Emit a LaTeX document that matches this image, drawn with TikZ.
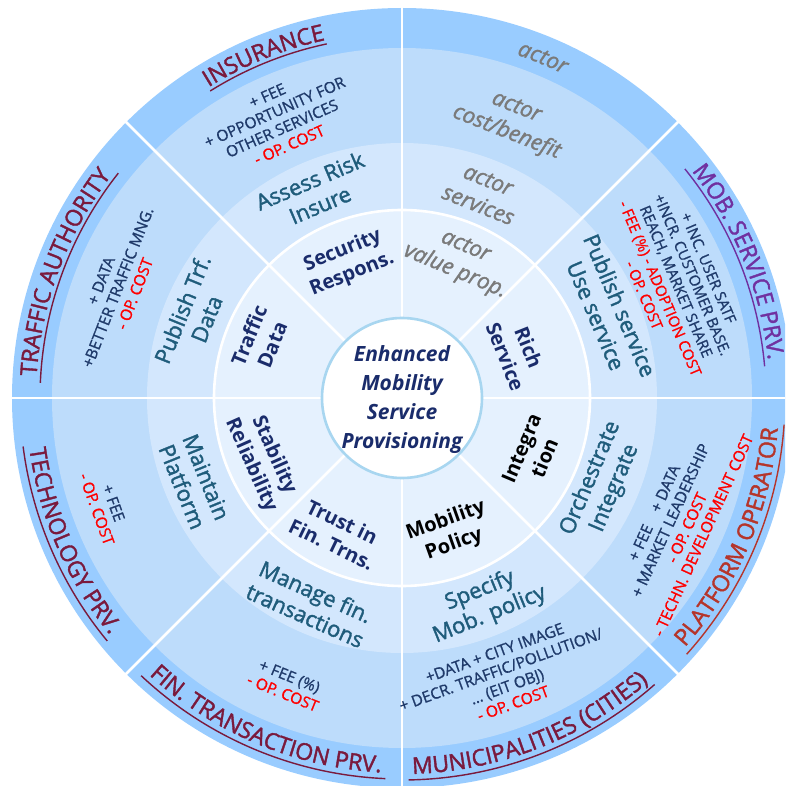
\documentclass[tikz,border=0pt]{standalone}
\usepackage{fontspec}
\setmainfont{Open Sans}
\newfontfamily\mfont{Open Sans}[FakeBold=1.6]
\newfontfamily\sfontc{Open Sans}[FakeBold=1.0]
\usetikzlibrary{decorations.text}
\definecolor{ringA}{HTML}{99CCFF}
\definecolor{ringB}{HTML}{BDDCFB}
\definecolor{ringC}{HTML}{D3E7FD}
\definecolor{ringD}{HTML}{E5F1FE}
\definecolor{cborder}{HTML}{A8D6F0}
\definecolor{navy}{HTML}{1A2C6B}
\definecolor{costnavy}{HTML}{1F3A6A}
\definecolor{tealc}{HTML}{1F5C7B}
\definecolor{maroon}{HTML}{7A1A3D}
\definecolor{purp}{HTML}{7030A0}
\definecolor{brick}{HTML}{B5352B}
\definecolor{actorgray}{HTML}{7A7A7A}
\tikzset{
  sep/.style={white, line width=2.6pt},
  cost/.style={font=\sfontc\fontsize{15.5pt}{18pt}\selectfont, align=center, text=costnavy, inner sep=0pt},
  svc/.style={font=\mfont\fontsize{22pt}{26pt}\selectfont, align=center, text=tealc, inner sep=0pt},
  val/.style={font=\bfseries\fontsize{20pt}{25pt}\selectfont, align=center, text=navy, inner sep=0pt},
  act/.style={font=\mfont\itshape\fontsize{22pt}{27pt}\selectfont, align=center, text=actorgray, inner sep=0pt},
  uline/.style={line width=1.4pt},
}
\begin{document}
\begin{tikzpicture}
\useasboundingbox (-402pt,-388pt) rectangle (383pt,398pt);
\clip (-402pt,-388pt) rectangle (383pt,398pt);
% rings
\fill[ringA] (0,0) circle[radius=390pt];
\fill[ringB] (0,0) circle[radius=350pt];
\fill[ringC] (0,0) circle[radius=255pt];
\fill[ringD] (0,0) circle[radius=188pt];
\draw[sep] (0,0) circle[radius=188pt];
\foreach \a in {0,45,...,315} \draw[sep] (\a:80pt) -- (\a:395pt);
\fill[white] (0,0) circle[radius=80pt];
\draw[cborder, line width=2.6pt] (0,0) circle[radius=80pt];

% outer labels (top half: clockwise, bottom half: counter-clockwise)
\path[decorate, decoration={text along path, text align=center, text color=maroon,
  text={|\mfont\fontsize{23pt}{23pt}\selectfont|INSURANCE}}]
  (152:366pt) arc[start angle=152, end angle=72, radius=366pt];
\draw[maroon, uline] (122:362pt) arc[start angle=122, end angle=102, radius=362pt];

\path[decorate, decoration={text along path, text align=center, text color=actorgray,
  text={|\mfont\itshape\fontsize{22pt}{22pt}\selectfont|actor}}]
  (107.5:362pt) arc[start angle=107.5, end angle=27.5, radius=362pt];

\path[decorate, decoration={text along path, text align=center, text color=purp,
  text={|\mfont\fontsize{23pt}{23pt}\selectfont|MOB. SERVICE PRV.}}]
  (62:368pt) arc[start angle=62, end angle=-18, radius=368pt];
\draw[purp, uline] (39:364pt) arc[start angle=39, end angle=5, radius=364pt];

\path[decorate, decoration={text along path, text align=center, text color=brick,
  text={|\mfont\fontsize{23pt}{23pt}\selectfont|PLATFORM OPERATOR}}]
  (-63:377pt) arc[start angle=-63, end angle=17, radius=377pt];
\draw[brick, uline] (-42:383pt) arc[start angle=-42, end angle=-4, radius=383pt];

\path[decorate, decoration={text along path, text align=center, text color=maroon,
  text={|\mfont\fontsize{23pt}{23pt}\selectfont|MUNICIPALITIES (CITIES)}}]
  (-108.7:376pt) arc[start angle=-108.7, end angle=-28.7, radius=376pt];
\draw[maroon, uline] (-89:382pt) arc[start angle=-89, end angle=-48.6, radius=382pt];

\path[decorate, decoration={text along path, text align=center, text color=maroon,
  text={|\mfont\fontsize{23pt}{23pt}\selectfont|FIN. TRANSACTION PRV.}}]
  (-152.8:375pt) arc[start angle=-152.8, end angle=-72.8, radius=375pt];
\draw[maroon, uline] (-133.2:381pt) arc[start angle=-133.2, end angle=-92.5, radius=381pt];

\path[decorate, decoration={text along path, text align=center, text color=maroon,
  text={|\mfont\fontsize{23pt}{23pt}\selectfont|TECHNOLOGY PRV.}}]
  (163.4:376pt) arc[start angle=163.4, end angle=243.4, radius=376pt];
\draw[maroon, uline] (187.3:382pt) arc[start angle=187.3, end angle=219.5, radius=382pt];

\path[decorate, decoration={text along path, text align=center, text color=maroon,
  text={|\mfont\fontsize{23pt}{23pt}\selectfont|TRAFFIC AUTHORITY}}]
  (199.6:366pt) arc[start angle=199.6, end angle=119.6, radius=366pt];
\draw[maroon, uline] (141.6:362pt) arc[start angle=141.6, end angle=177.6, radius=362pt];

% cost / benefit ring
\node[cost, rotate=24] (cIns) at (114:304pt) {+ FEE\\+ OPPORTUNITY FOR\\OTHER SERVICES\\\textcolor{red}{- OP. COST}};
\node[act, rotate=-21.5] (aCost) at (68.5:298pt) {actor\\cost/benefit};
\node[cost, rotate=-67, font=\sfontc\fontsize{15pt}{17.5pt}\selectfont] (cMob) at (23:298pt) {+ INC. USER SATF\\+INCR. CUSTOMER BASE.\\REACH, MARKET SHARE\\\textcolor{red}{- FEE (\%) - ADOPTION COST}\\\textcolor{red}{- OP. COST}};
\node[cost, rotate=65.5] (cPlat) at (-24.5:304pt) {+ FEE\quad + DATA\\+ MARKET LEADERSHIP\\\textcolor{red}{- OP. COST}\\\textcolor{red}{- TECHN. DEVELOPMENT COST}};
\node[cost, rotate=20] (cMun) at (-70:298pt) {+DATA + CITY IMAGE\\+ DECR. TRAFFIC/POLLUTION/\\\ldots{} (EIT OBJ)\\\textcolor{red}{- OP. COST}};
\node[cost, rotate=-22] (cFin) at (-112:309pt) {+ FEE (\%)\\\textcolor{red}{- OP. COST}};
\node[cost, rotate=-70] (cTech) at (200:316pt) {+ FEE\\\textcolor{red}{- OP. COST}};
\node[cost, rotate=68.7] (cTraf) at (158.7:305pt) {+ DATA\\+BETTER TRAFFIC MNG.\\\textcolor{red}{- OP. COST}};

% services ring
\node[svc, rotate=23] (sIns) at (113:223pt) {Assess Risk\\Insure};
\node[act, rotate=-21.6] (aSvc) at (68.4:221pt) {actor\\services};
\node[svc, rotate=-67] (sMob) at (23:224pt) {Publish service\\Use service};
\node[svc, rotate=67] (sPlat) at (-23:218pt) {Orchestrate\\Integrate};
\node[svc, rotate=22] (sMun) at (-68:221pt) {Specify\\Mob. policy};
\node[svc, rotate=-24] (sFin) at (-114:225pt) {Manage fin.\\transactions};
\node[svc, rotate=-68] (sTech) at (202:224pt) {Maintain\\Platform};
\node[svc, rotate=68] (sTraf) at (158:224pt) {Publish Trf.\\Data};

% value proposition ring
\node[val, rotate=22] (vIns) at (112:146pt) {Security\\Respons.};
\node[act, rotate=-22.8] (aVal) at (67.2:150pt) {actor\\value prop.};
\node[val, rotate=-68.3] (vMob) at (21.7:124pt) {Rich\\Service};
\node[val, rotate=67.2, text=black] (vPlat) at (-22.8:142pt) {Integra\\tion};
\node[val, rotate=19.6, text=black] (vMun) at (-70.4:143pt) {Mobility\\Policy};
\node[val, rotate=-25.7] (vFin) at (-115.7:150pt) {Trust in\\Fin. Trns.};
\node[val, rotate=-66] (vTech) at (204:153pt) {Stability\\Reliability};
\node[val, rotate=67.8] (vTraf) at (157.8:153pt) {Traffic\\Data};

% centre
\node[font=\bfseries\itshape\fontsize{21pt}{29pt}\selectfont, text=navy, align=center, inner sep=0pt] (ctr) at (0,-2pt) {Enhanced\\Mobility\\Service\\Provisioning};
\end{tikzpicture}
\end{document}
